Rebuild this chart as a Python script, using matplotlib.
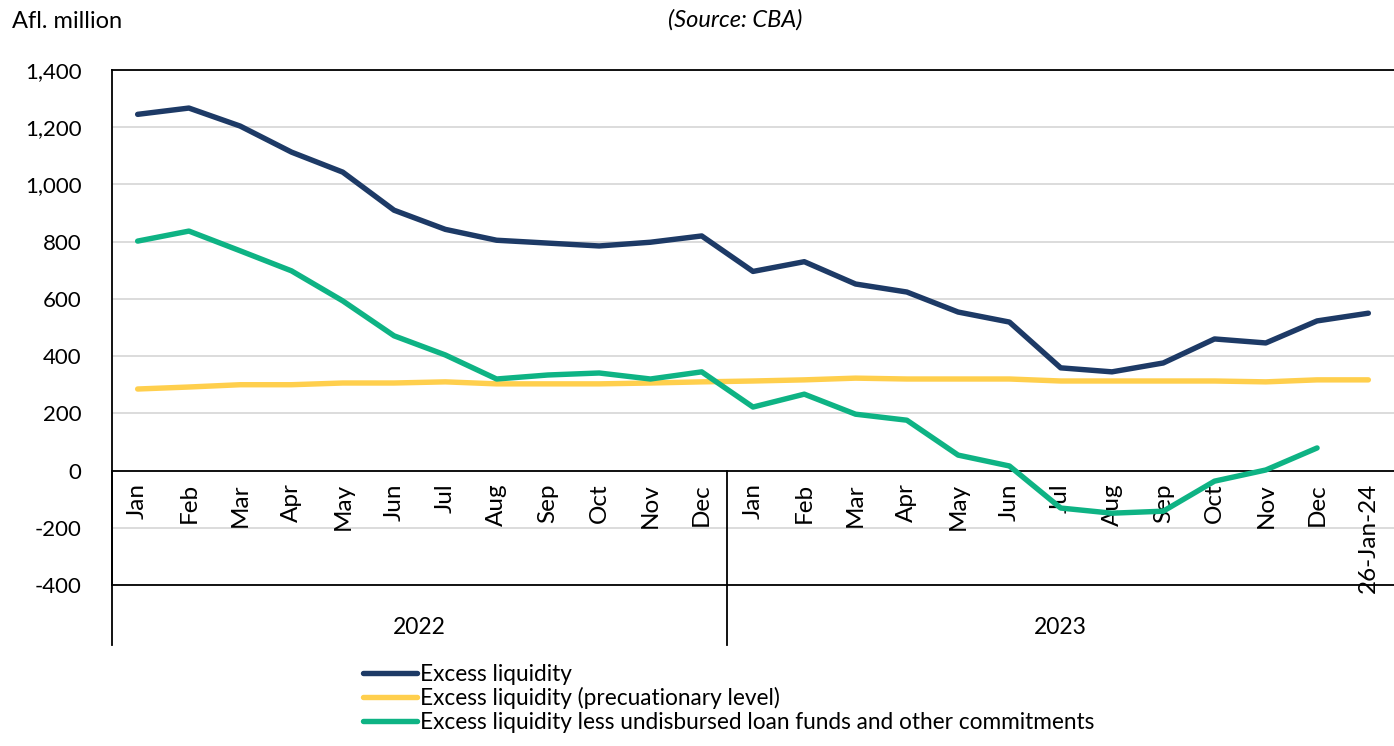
import numpy as np
import matplotlib.pyplot as plt

# datos (Afl. millones)
meses = ["Jan", "Feb", "Mar", "Apr", "May", "Jun", "Jul", "Aug", "Sep", "Oct", "Nov", "Dec"]
etiquetas = meses + meses + ["26-Jan-24"]
anios = ["2022", "2023"]

exceso = [1245, 1267, 1204, 1113, 1043, 910, 843, 805, 795, 785, 798, 820,
          696, 730, 652, 624, 554, 519, 359, 345, 376, 460, 446, 523, 550]
precautorio = [285, 292, 300, 300, 306, 306, 310, 303, 303, 303, 306, 310,
               313, 317, 323, 320, 320, 320, 313, 313, 313, 313, 310, 317, 317]
exceso_neto = [802, 837, 768, 698, 593, 471, 404, 320, 334, 341, 320, 345,
               222, 267, 197, 176, 54, 16, -131, -149, -142, -37, 2, 79, np.nan]

plt.rcParams['font.family'] = ['Lato', 'DejaVu Sans']

fig = plt.figure(figsize=(13.94, 7.46), dpi=100)
ax = fig.add_axes([112 / 1394, 1 - 585 / 746, 1 - 112 / 1394, (585 - 70) / 746])

x = np.arange(len(etiquetas))
ax.plot(x, exceso, color='#1D3A66', lw=3.9, solid_capstyle='round', label='Excess liquidity', zorder=4)
ax.plot(x, precautorio, color='#FFCF4D', lw=3.9, solid_capstyle='round',
        label='Excess liquidity (precuationary level)', zorder=3)
ax.plot(x, exceso_neto, color='#0EB384', lw=3.9, solid_capstyle='round',
        label='Excess liquidity less undisbursed loan funds and other commitments', zorder=5)

ax.set_xlim(-0.5, len(etiquetas) - 0.5)
ax.set_ylim(-400, 1400)
ax.set_yticks(np.arange(-400, 1401, 200))
ax.set_yticklabels([f"{v:,}" for v in range(-400, 1401, 200)], fontsize=16)
ax.tick_params(axis='y', length=0, pad=22)
ax.set_xticks([])
ax.grid(axis='y', color='#D9D9D9', lw=1.3, zorder=0)
ax.set_axisbelow(True)

ax.spines['right'].set_visible(False)
for lado in ['left', 'top', 'bottom']:
    ax.spines[lado].set_color('black')
    ax.spines[lado].set_linewidth(1.3)

# linea del cero
ax.axhline(0, color='black', lw=1.3, zorder=2)

# etiquetas de meses bajo el eje cero
for i, et in enumerate(etiquetas):
    ax.annotate(et, (i, 0), xytext=(0, -9), textcoords='offset points',
                rotation=90, ha='center', va='top', fontsize=17.5)

# separadores y etiquetas de anio
ax.axvline(-0.5, ymin=-0.117, ymax=400 / 1800, color='black', lw=1.3, clip_on=False)
ax.axvline(11.5, ymin=-0.117, ymax=400 / 1800, color='black', lw=1.3, clip_on=False)
ax.text(5.5, -0.083, anios[0], transform=ax.get_xaxis_transform(), ha='center', va='center', fontsize=16.5)
ax.text(18, -0.083, anios[1], transform=ax.get_xaxis_transform(), ha='center', va='center', fontsize=16.5)

fig.text(12 / 1394, 1 - 22 / 746, "Afl. million", fontsize=17, va='center', ha='left')
fig.text(735 / 1394, 1 - 20 / 746, "(Source: CBA)", fontsize=17, style='italic', va='center', ha='center')

fig.legend(loc='upper left', bbox_to_anchor=(354 / 1394, 1 - 655 / 746), frameon=False,
           fontsize=16.3, handlelength=2.4, handletextpad=0.12, labelspacing=0.1, borderaxespad=0)

fig.savefig('out.png', dpi=100)
